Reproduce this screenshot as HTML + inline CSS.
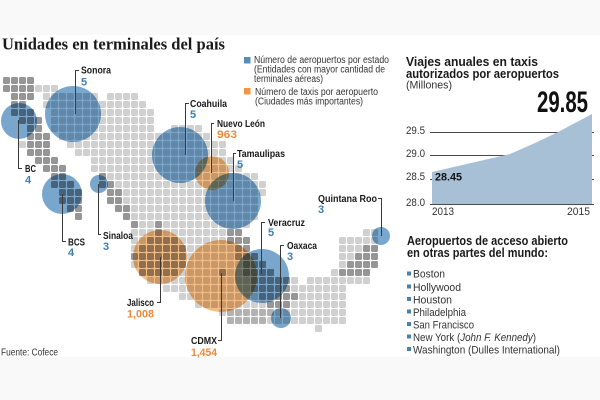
<!DOCTYPE html>
<html><head><meta charset="utf-8"><style>
html,body{margin:0;padding:0;background:#fff;}
body{width:600px;height:400px;overflow:hidden;}
svg{display:block;}
.lb{font-family:"Liberation Sans",sans-serif;font-weight:bold;font-size:10.5px;fill:#1a1a1a;}
.vb{font-family:"Liberation Sans",sans-serif;font-weight:bold;font-size:11px;fill:#3f7fb4;}
.vo{font-family:"Liberation Sans",sans-serif;font-weight:bold;font-size:11px;fill:#f08a3a;}
.lg{font-family:"Liberation Sans",sans-serif;font-size:10px;fill:#333;}
.rg{font-family:"Liberation Sans",sans-serif;font-size:11px;fill:#333;}
.hb{font-family:"Liberation Sans",sans-serif;font-weight:bold;font-size:13px;fill:#1a1a1a;}
.ld{stroke:#3a3a3a;stroke-width:1;fill:none;}
.c{mix-blend-mode:multiply;}
</style></head><body>
<svg width="600" height="400" viewBox="0 0 600 400" xmlns="http://www.w3.org/2000/svg">
<defs>
<pattern id="L" patternUnits="userSpaceOnUse" x="3" y="77" width="8" height="8"><rect x="0" y="0" width="7" height="7" rx="1.5" fill="#d0d0d0"/></pattern>
<pattern id="D" patternUnits="userSpaceOnUse" x="3" y="77" width="8" height="8"><rect x="0" y="0" width="7" height="7" rx="1.5" fill="#969696"/></pattern>
<pattern id="M" patternUnits="userSpaceOnUse" x="3" y="77" width="8" height="8"><rect x="0" y="0" width="7" height="7" rx="1.5" fill="#b2b2b2"/></pattern>
</defs>
<rect x="0" y="0" width="600" height="400" fill="#ffffff"/>
<rect x="0" y="0" width="600" height="35" fill="#f9f9f9"/>
<rect x="0" y="357" width="600" height="43" fill="#f9f9f9"/>

<text x="2" y="49.5" font-family="'Liberation Serif',serif" font-weight="bold" font-size="17" fill="#1a1a1a" textLength="223" lengthAdjust="spacingAndGlyphs">Unidades en terminales del país</text>

<!-- map light squares -->
<g fill="url(#L)">
<rect x="35" y="85" width="24" height="8"/>
<rect x="43" y="93" width="56" height="8"/><rect x="107" y="93" width="32" height="8"/>
<rect x="43" y="101" width="104" height="8"/>
<rect x="51" y="109" width="104" height="8"/>
<rect x="51" y="117" width="104" height="8"/>
<rect x="51" y="125" width="104" height="8"/><rect x="171" y="125" width="32" height="8"/>
<rect x="59" y="133" width="152" height="8"/>
<rect x="19" y="141" width="8" height="8"/><rect x="67" y="141" width="160" height="8"/>
<rect x="75" y="149" width="152" height="8"/>
<rect x="91" y="157" width="144" height="8"/>
<rect x="91" y="165" width="152" height="8"/>
<rect x="99" y="173" width="160" height="8"/>
<rect x="99" y="181" width="168" height="8"/>
<rect x="107" y="189" width="160" height="8"/>
<rect x="107" y="197" width="152" height="8"/>
<rect x="115" y="205" width="144" height="8"/>
<rect x="123" y="213" width="136" height="8"/>
<rect x="131" y="221" width="120" height="8"/>
<rect x="131" y="229" width="112" height="8"/><rect x="363" y="229" width="16" height="8"/>
<rect x="131" y="237" width="120" height="8"/><rect x="339" y="237" width="40" height="8"/>
<rect x="131" y="245" width="120" height="8"/><rect x="339" y="245" width="40" height="8"/>
<rect x="131" y="253" width="128" height="8"/><rect x="339" y="253" width="40" height="8"/>
<rect x="131" y="261" width="136" height="8"/><rect x="339" y="261" width="40" height="8"/>
<rect x="139" y="269" width="136" height="8"/><rect x="331" y="269" width="40" height="8"/>
<rect x="147" y="277" width="152" height="8"/><rect x="307" y="277" width="64" height="8"/>
<rect x="163" y="285" width="184" height="8"/>
<rect x="179" y="293" width="168" height="8"/>
<rect x="195" y="301" width="152" height="8"/>
<rect x="219" y="309" width="128" height="8"/>
<rect x="227" y="317" width="120" height="8"/>
<rect x="315" y="325" width="8" height="8"/>
</g>
<!-- map dark squares -->
<g fill="url(#D)">
<rect x="3" y="77" width="32" height="8"/>
<rect x="3" y="85" width="32" height="8"/>
<rect x="11" y="93" width="24" height="8"/>
<rect x="11" y="101" width="16" height="8"/>
<rect x="11" y="109" width="24" height="8"/>
<rect x="19" y="117" width="24" height="8"/>
<rect x="27" y="125" width="16" height="8"/>
<rect x="27" y="133" width="24" height="8"/>
<rect x="27" y="141" width="24" height="8"/>
<rect x="27" y="149" width="24" height="8"/>
<rect x="35" y="157" width="24" height="8"/>
<rect x="43" y="165" width="24" height="8"/>
<rect x="51" y="173" width="16" height="8"/><rect x="99" y="173" width="8" height="8"/>
<rect x="51" y="181" width="24" height="8"/><rect x="99" y="181" width="16" height="8"/>
<rect x="59" y="189" width="24" height="8"/><rect x="107" y="189" width="16" height="8"/>
<rect x="59" y="197" width="24" height="8"/><rect x="107" y="197" width="16" height="8"/>
<rect x="67" y="205" width="16" height="8"/><rect x="115" y="205" width="16" height="8"/>
<rect x="75" y="213" width="8" height="8"/><rect x="123" y="213" width="8" height="8"/>
<rect x="131" y="221" width="8" height="8"/><rect x="155" y="221" width="8" height="8"/>
<rect x="155" y="229" width="8" height="8"/><rect x="227" y="229" width="16" height="8"/>
<rect x="147" y="237" width="32" height="8"/><rect x="227" y="237" width="24" height="8"/>
<rect x="139" y="245" width="48" height="8"/><rect x="235" y="245" width="16" height="8"/><rect x="363" y="245" width="16" height="8"/>
<rect x="131" y="253" width="56" height="8"/><rect x="235" y="253" width="24" height="8"/><rect x="355" y="253" width="24" height="8"/>
<rect x="139" y="261" width="48" height="8"/><rect x="243" y="261" width="24" height="8"/><rect x="347" y="261" width="32" height="8"/>
<rect x="139" y="269" width="40" height="8"/><rect x="219" y="269" width="8" height="8"/><rect x="243" y="269" width="32" height="8"/><rect x="339" y="269" width="32" height="8"/>
<rect x="251" y="277" width="40" height="8"/>
<rect x="251" y="285" width="40" height="8"/>
<rect x="259" y="293" width="40" height="8"/>
<rect x="267" y="301" width="24" height="8"/>
</g>
<g fill="url(#M)">
<rect x="227" y="309" width="48" height="8"/>
<rect x="227" y="317" width="40" height="8"/>
</g>

<!-- circles -->
<g>
<circle class="c" cx="19" cy="121" r="18" fill="#78a6cd"/>
<circle class="c" cx="73" cy="114" r="28" fill="#78a6cd"/>
<circle class="c" cx="62" cy="194" r="20" fill="#78a6cd"/>
<circle class="c" cx="99" cy="184" r="9" fill="#78a6cd"/>
<circle class="c" cx="180" cy="155" r="28" fill="#78a6cd"/>
<circle class="c" cx="212" cy="173" r="17" fill="#f4bc82"/>
<circle class="c" cx="233" cy="201" r="28" fill="#78a6cd"/>
<circle class="c" cx="160" cy="257" r="27" fill="#f4bc82"/>
<circle class="c" cx="221" cy="276" r="36" fill="#f4bc82"/>
<circle class="c" cx="262" cy="276" r="27" fill="#78a6cd"/>
<circle class="c" cx="281" cy="318" r="10" fill="#78a6cd"/>
<circle class="c" cx="381" cy="236" r="9" fill="#78a6cd"/>
</g>

<!-- leader lines -->
<g class="ld">
<path d="M79,70.5 H75.5 V114"/>
<path d="M18.5,120 V168.5 H22"/>
<path d="M62.5,194 V241.5 H66"/>
<path d="M98.5,184 V234.5 H101"/>
<path d="M160.5,257 V302.5 H157"/>
<path d="M221.5,273 V340.5 H218"/>
<path d="M189,103.5 H185.5 V155"/>
<path d="M214,123.5 H211.5 V173"/>
<path d="M236,153.5 H233.5 V201"/>
<path d="M378,198.5 H381.5 V236"/>
<path d="M265,222.5 H261.5 V274"/>
<path d="M284,245.5 H280.5 V318"/>
</g>

<!-- labels -->
<text class="lb" x="81" y="73.5" textLength="30" lengthAdjust="spacingAndGlyphs">Sonora</text>
<text class="vb" x="81" y="85.5">5</text>
<text class="lb" x="25" y="172" textLength="11" lengthAdjust="spacingAndGlyphs">BC</text>
<text class="vb" x="25" y="183.5">4</text>
<text class="lb" x="68" y="245.5" textLength="17" lengthAdjust="spacingAndGlyphs">BCS</text>
<text class="vb" x="68" y="256">4</text>
<text class="lb" x="103" y="239" textLength="30" lengthAdjust="spacingAndGlyphs">Sinaloa</text>
<text class="vb" x="103" y="250">3</text>
<text class="lb" x="127" y="306" textLength="27" lengthAdjust="spacingAndGlyphs">Jalisco</text>
<text class="vo" x="127" y="317.5" textLength="27" lengthAdjust="spacingAndGlyphs">1,008</text>
<text class="lb" x="191" y="344" textLength="26" lengthAdjust="spacingAndGlyphs">CDMX</text>
<text class="vo" x="191" y="356" textLength="26" lengthAdjust="spacingAndGlyphs">1,454</text>
<text class="lb" x="190" y="107" textLength="37" lengthAdjust="spacingAndGlyphs">Coahuila</text>
<text class="vb" x="190" y="118">5</text>
<text class="lb" x="217" y="127" textLength="48" lengthAdjust="spacingAndGlyphs">Nuevo León</text>
<text class="vo" x="217" y="138" textLength="20" lengthAdjust="spacingAndGlyphs">963</text>
<text class="lb" x="237" y="157" textLength="48" lengthAdjust="spacingAndGlyphs">Tamaulipas</text>
<text class="vb" x="237" y="168">5</text>
<text class="lb" x="318" y="202" textLength="59" lengthAdjust="spacingAndGlyphs">Quintana Roo</text>
<text class="vb" x="318" y="213">3</text>
<text class="lb" x="268" y="226" textLength="37" lengthAdjust="spacingAndGlyphs">Veracruz</text>
<text class="vb" x="268" y="236">5</text>
<text class="lb" x="287" y="249" textLength="30" lengthAdjust="spacingAndGlyphs">Oaxaca</text>
<text class="vb" x="287" y="260">3</text>

<!-- legend -->
<rect x="244" y="57" width="6.5" height="6.5" fill="#5b8cb8"/>
<text class="lg" x="254" y="63" textLength="135" lengthAdjust="spacingAndGlyphs">Número de aeropuertos por estado</text>
<text class="lg" x="254" y="72.5" textLength="131" lengthAdjust="spacingAndGlyphs">(Entidades con mayor cantidad de</text>
<text class="lg" x="254" y="82" textLength="69" lengthAdjust="spacingAndGlyphs">terminales aéreas)</text>
<rect x="244" y="88" width="6.5" height="6.5" fill="#f39548"/>
<text class="lg" x="255" y="95" textLength="123" lengthAdjust="spacingAndGlyphs">Número de taxis por aeropuerto</text>
<text class="lg" x="255" y="104.5" textLength="108" lengthAdjust="spacingAndGlyphs">(Ciudades más importantes)</text>

<text class="lg" x="1" y="355.5" textLength="57" lengthAdjust="spacingAndGlyphs">Fuente: Cofece</text>

<!-- right chart -->
<text class="hb" x="406" y="66" textLength="132" lengthAdjust="spacingAndGlyphs">Viajes anuales en taxis</text>
<text class="hb" x="406" y="78" textLength="153" lengthAdjust="spacingAndGlyphs">autorizados por aeropuertos</text>
<text class="rg" x="406" y="88.5" textLength="46" lengthAdjust="spacingAndGlyphs">(Millones)</text>
<text x="537" y="112" font-family="'Liberation Sans',sans-serif" font-weight="bold" font-size="30" fill="#111" textLength="51" lengthAdjust="spacingAndGlyphs">29.85</text>

<g stroke="#4a4a4a" stroke-width="1">
<line x1="430" y1="132.5" x2="594" y2="132.5"/>
<line x1="430" y1="155.5" x2="594" y2="155.5"/>
<line x1="430" y1="179.5" x2="594" y2="179.5"/>
</g>
<polygon points="432,204 432,172 510,154 535,143 558,132 592,114 592,204" fill="#a8c0d5"/>
<line x1="430" y1="204.5" x2="594" y2="204.5" stroke="#4a4a4a" stroke-width="1"/>
<text class="rg" x="406" y="134" textLength="19" lengthAdjust="spacingAndGlyphs">29.5</text>
<text class="rg" x="406" y="157" textLength="19" lengthAdjust="spacingAndGlyphs">29.0</text>
<text class="rg" x="406" y="180" textLength="19" lengthAdjust="spacingAndGlyphs">28.5</text>
<text class="rg" x="406" y="206" textLength="19" lengthAdjust="spacingAndGlyphs">28.0</text>
<text x="435" y="180.5" font-family="'Liberation Sans',sans-serif" font-weight="bold" font-size="11" fill="#111" textLength="27" lengthAdjust="spacingAndGlyphs">28.45</text>
<text class="rg" x="432" y="215" textLength="22" lengthAdjust="spacingAndGlyphs">2013</text>
<text class="rg" x="567" y="215" textLength="23" lengthAdjust="spacingAndGlyphs">2015</text>

<!-- airports list -->
<text class="hb" x="407" y="245" font-size="12.5" textLength="161" lengthAdjust="spacingAndGlyphs">Aeropuertos de acceso abierto</text>
<text class="hb" x="407" y="257" font-size="12.5" textLength="141" lengthAdjust="spacingAndGlyphs">en otras partes del mundo:</text>
<g fill="#4a80b0">
<rect x="407" y="271.5" width="4" height="4"/>
<rect x="407" y="284.5" width="4" height="4"/>
<rect x="407" y="297" width="4" height="4"/>
<rect x="407" y="309.5" width="4" height="4"/>
<rect x="407" y="322" width="4" height="4"/>
<rect x="407" y="334.5" width="4" height="4"/>
<rect x="407" y="347" width="4" height="4"/>
</g>
<text class="rg" x="413" y="277.5" textLength="32" lengthAdjust="spacingAndGlyphs">Boston</text>
<text class="rg" x="413" y="291" textLength="48" lengthAdjust="spacingAndGlyphs">Hollywood</text>
<text class="rg" x="413" y="303.5" textLength="39" lengthAdjust="spacingAndGlyphs">Houston</text>
<text class="rg" x="413" y="316" textLength="53" lengthAdjust="spacingAndGlyphs">Philadelphia</text>
<text class="rg" x="413" y="328.5" textLength="61" lengthAdjust="spacingAndGlyphs">San Francisco</text>
<text class="rg" x="413" y="341" textLength="123" lengthAdjust="spacingAndGlyphs">New York (<tspan font-style="italic">John F. Kennedy</tspan>)</text>
<text class="rg" x="413" y="353.5" textLength="147" lengthAdjust="spacingAndGlyphs">Washington (Dulles International)</text>
</svg>
</body></html>
